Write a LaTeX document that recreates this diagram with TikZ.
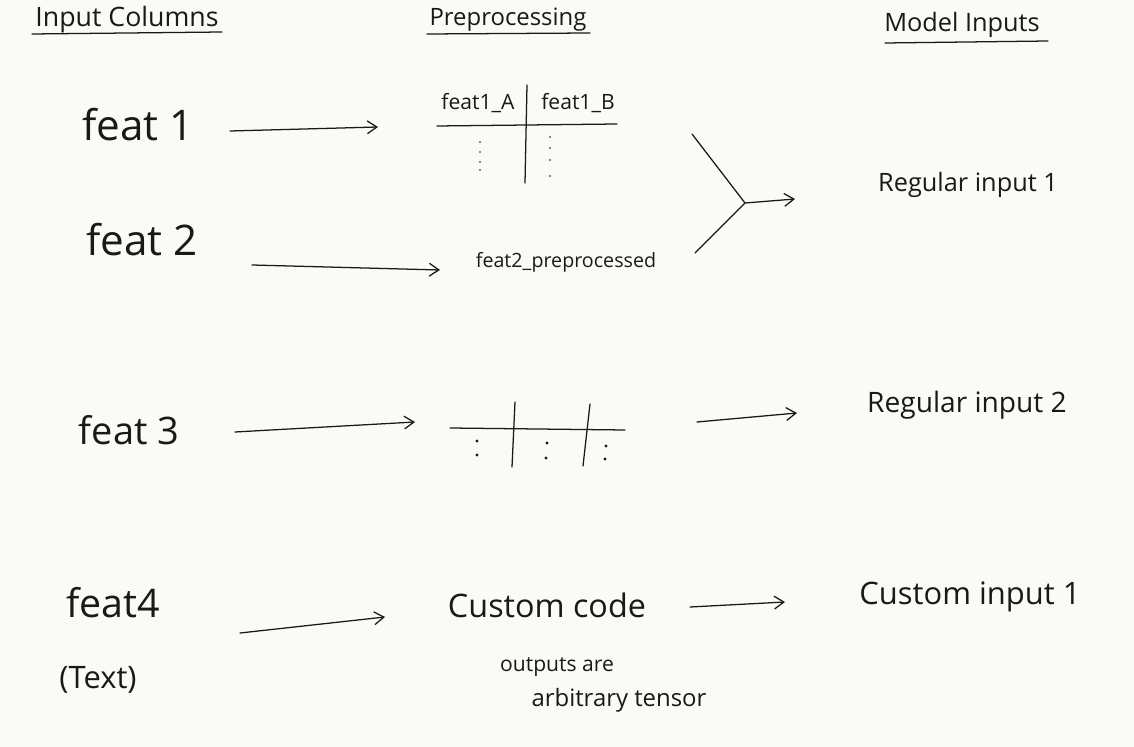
\documentclass[tikz,border=0pt]{standalone}
\usepackage{fontspec}
\setmainfont{Open Sans}
\usetikzlibrary{arrows.meta}
\definecolor{paper}{RGB}{250,250,247}
\definecolor{ink}{RGB}{25,25,25}
\newcommand{\hfs}[1]{\fontsize{#1}{#1}\selectfont}
\begin{document}
\begin{tikzpicture}[x=0.025cm,y=-0.025cm,
  pen/.style={draw=ink, line width=0.9pt, line cap=round, line join=round},
  arr/.style={pen, -{Straight Barb[length=2.4mm,width=3.2mm]}},
  txt/.style={text=ink, inner sep=0pt, anchor=center},
  dot/.style={fill=ink, draw=none, circle, inner sep=0pt, minimum size=1.4pt}]
\fill[paper] (0,0) rectangle (1134,747);
\useasboundingbox (0,0) rectangle (1134,747);

% headings
\node[txt,font=\hfs{19}] (hin) at (127,20) {Input Columns};
\draw[pen] (32,34) -- (222,32);
\node[txt,font=\hfs{17}] (hpre) at (508,20) {Preprocessing};
\draw[pen] (427,34) -- (590,33);
\node[txt,font=\hfs{18}] (hmod) at (962,25) {Model Inputs};
\draw[pen] (885,43) -- (1048,41);

% input columns
\node[txt,font=\hfs{30}] (f1) at (138,125) {feat 1};
\node[txt,font=\hfs{30}] (f2) at (142,240) {feat 2};
\node[txt,font=\hfs{27}] (f3) at (129,430) {feat 3};
\node[txt,font=\hfs{28}] (f4) at (113,603) {feat4};
\node[txt,font=\hfs{22}] (f4t) at (98,680) {(Text)};

% preprocessing: feat 1 table
\node[txt,font=\hfs{15}] (p1a) at (478,103) {feat1\_A};
\node[txt,font=\hfs{15}] (p1b) at (578,103) {feat1\_B};
\draw[pen] (437,126) -- (617,124);
\draw[pen] (527,85) -- (525,183);
\foreach \y in {142,152,162,170} \node[dot] at (480,\y) {};
\foreach \y in {137,148,160,176} \node[dot] at (550,\y) {};

% feat 2
\node[txt,font=\hfs{14}] (p2) at (566,262) {feat2\_preprocessed};

% feat 3 table
\draw[pen] (450,428) -- (625,430);
\draw[pen] (515,402) -- (512,467);
\draw[pen] (590,404) -- (583,466);
\node[dot,minimum size=2.2pt] at (477,441) {};
\node[dot,minimum size=2.2pt] at (477,455) {};
\node[dot,minimum size=2.2pt] at (547,443) {};
\node[dot,minimum size=2.2pt] at (546,458) {};
\node[dot,minimum size=2.2pt] at (606,446) {};
\node[dot,minimum size=2.2pt] at (605,459) {};

% feat 4 custom code
\node[txt,font=\hfs{23}] (p4) at (547,605) {Custom code};
\node[txt,font=\hfs{15}] (p4n1) at (557,667) {outputs are};
\node[txt,font=\hfs{17}] (p4n2) at (619,700) {arbitrary tensor};

% model inputs
\node[txt,font=\hfs{18}] (m1) at (968,185) {Regular input 1};
\node[txt,font=\hfs{20}] (m2) at (967,405) {Regular input 2};
\node[txt,font=\hfs{22}] (m3) at (970,597) {Custom input 1};

% arrow end points
\coordinate (a1s) at (230,131); \coordinate (a1e) at (378,127);
\coordinate (a2s) at (252,265); \coordinate (a2e) at (440,270);
\coordinate (a3s) at (235,432); \coordinate (a3e) at (415,422);
\coordinate (a4s) at (240,633); \coordinate (a4e) at (385,617);
\coordinate (b1u) at (692,134); \coordinate (b1l) at (695,253);
\coordinate (j) at (745,203); \coordinate (b1e) at (795,199);
\coordinate (b2s) at (697,422); \coordinate (b2e) at (797,413);
\coordinate (b3s) at (690,607); \coordinate (b3e) at (785,602);

\draw[arr] (a1s) -- (a1e);
\draw[arr] (a2s) -- (a2e);
\draw[arr] (a3s) -- (a3e);
\draw[arr] (a4s) -- (a4e);
\draw[pen] (b1u) -- (j) -- (b1l);
\draw[arr] (j) -- (b1e);
\draw[arr] (b2s) -- (b2e);
\draw[arr] (b3s) -- (b3e);
\end{tikzpicture}
\end{document}
